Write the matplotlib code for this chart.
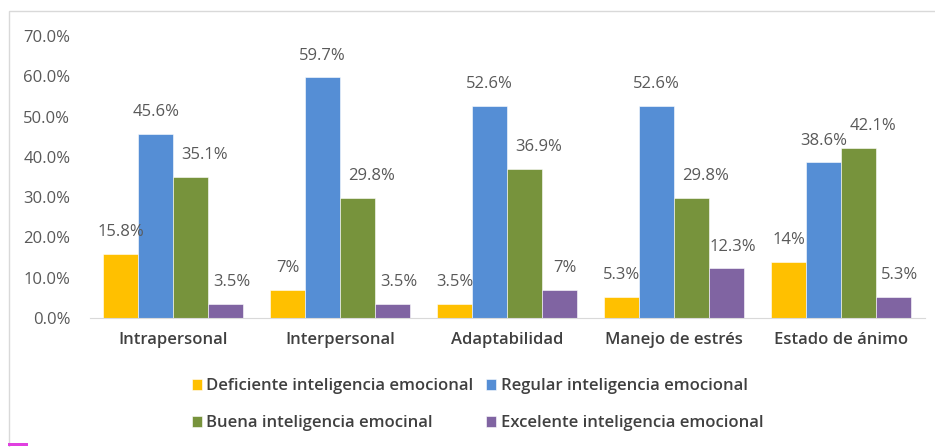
import matplotlib.pyplot as plt
from matplotlib.patches import Rectangle

# データ
categorias = ["Intrapersonal", "Interpersonal", "Adaptabilidad", "Manejo de estrés", "Estado de ánimo"]
deficiente = [15.8, 7, 3.5, 5.3, 14]
regular = [45.6, 59.7, 52.6, 52.6, 38.6]
buena = [35.1, 29.8, 36.9, 29.8, 42.1]
excelente = [3.5, 3.5, 7, 12.3, 5.3]
etiquetas_def = ["15.8%", "7%", "3.5%", "5.3%", "14%"]
etiquetas_reg = ["45.6%", "59.7%", "52.6%", "52.6%", "38.6%"]
etiquetas_bue = ["35.1%", "29.8%", "36.9%", "29.8%", "42.1%"]
etiquetas_exc = ["3.5%", "3.5%", "7%", "12.3%", "5.3%"]
nombres = ["Deficiente inteligencia emocional", "Regular inteligencia emocional",
           "Buena inteligencia emocinal", "Excelente inteligencia emocional"]
colores = ["#FFC000", "#558ED5", "#77933C", "#8064A2"]

plt.rcParams['font.family'] = ['Open Sans', 'DejaVu Sans']

fig = plt.figure(figsize=(9.35, 4.47), dpi=100)
ax = fig.add_axes([0.096, 0.2886, 0.893, 0.631])

series = [deficiente, regular, buena, excelente]
etiquetas = [etiquetas_def, etiquetas_reg, etiquetas_bue, etiquetas_exc]
desplaz = [0, 0, 10, 4]  # desplazamiento horizontal de las etiquetas (pt)
ancho = 0.21
x = list(range(len(categorias)))
barras = []
for i, (vals, col) in enumerate(zip(series, colores)):
    pos = [xi + (i - 1.5) * ancho for xi in x]
    b = ax.bar(pos, vals, width=ancho, color=col, edgecolor="#ffffff", linewidth=0.4, label=nombres[i])
    barras.append(b)
    for p, v, t in zip(pos, vals, etiquetas[i]):
        ax.annotate(t, (p, v), xytext=(desplaz[i], 10), textcoords="offset points",
                    ha="center", va="bottom", fontsize=12, color="#595959")

ax.set_xlim(-0.5, 4.5)
ax.set_ylim(0, 70)
ax.set_yticks(range(0, 71, 10))
ax.set_yticklabels([f"{v:.1f}%" for v in range(0, 71, 10)], fontsize=12, color="#595959")
ax.set_xticks(x)
ax.set_xticklabels(categorias, fontsize=12, color="#404040", fontweight="semibold")
ax.tick_params(axis="y", length=0, pad=14)
ax.tick_params(axis="x", length=0, pad=10)
for s in ["top", "right", "left"]:
    ax.spines[s].set_visible(False)
ax.spines["bottom"].set_color("#d9d9d9")

orden = [0, 2, 1, 3]
leg = fig.legend([barras[k] for k in orden], [nombres[k] for k in orden], ncol=2,
                 loc="upper left", bbox_to_anchor=(0.189, 0.187), frameon=False,
                 handlelength=0.6, handleheight=0.6, handletextpad=0.25, columnspacing=0.8,
                 labelspacing=1.25, prop={"size": 12, "weight": "semibold"})
for t in leg.get_texts():
    t.set_color("#404040")

# marco
fig.patches.append(Rectangle((9 / 935, -0.1), 1.1, 1 - 11 / 447 + 0.1, transform=fig.transFigure,
                             fill=False, edgecolor="#d9d9d9", linewidth=1))
fig.patches.append(Rectangle((8 / 935, 1 / 447), 20 / 935, 3 / 447, transform=fig.transFigure,
                             facecolor="#e040e0", edgecolor="none"))

fig.savefig("out.png", dpi=100)
